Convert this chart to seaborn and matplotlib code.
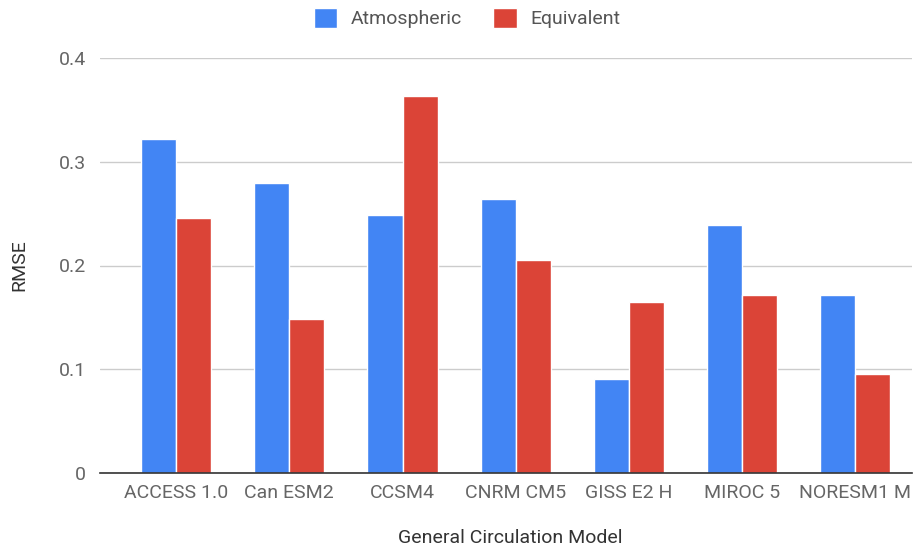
import matplotlib
matplotlib.use("Agg")
import matplotlib.pyplot as plt
import seaborn as sns
import pandas as pd

models = ["ACCESS 1.0", "Can ESM2", "CCSM4", "CNRM CM5", "GISS E2 H", "MIROC 5", "NORESM1 M"]
atmospheric = [0.322, 0.280, 0.249, 0.264, 0.091, 0.239, 0.172]
equivalent = [0.246, 0.148, 0.363, 0.205, 0.165, 0.172, 0.095]
series = ["Atmospheric", "Equivalent"]

df = pd.DataFrame({
    "model": models * 2,
    "RMSE": atmospheric + equivalent,
    "series": [series[0]] * len(models) + [series[1]] * len(models),
})

sns.set_theme(style="white")
plt.rcParams["font.family"] = ["Roboto", "DejaVu Sans"]

W, H = 913, 552
fig = plt.figure(figsize=(W / 100, H / 100), dpi=100)
ax_l, ax_r, ax_t, ax_b = 100, 912, 58, 473
ax = fig.add_axes([ax_l / W, 1 - ax_b / H, (ax_r - ax_l) / W, (ax_b - ax_t) / H])

sns.barplot(data=df, x="model", y="RMSE", hue="series", order=models,
            hue_order=series, palette=["#4285F4", "#DB4437"], width=0.62,
            saturation=1, ax=ax, legend=True)

ax.set_xlim(-0.672, 6.5)
ax.set_ylim(0, 0.4)
ax.set_yticks([0, 0.1, 0.2, 0.3, 0.4])
ax.set_yticklabels(["0", "0.1", "0.2", "0.3", "0.4"])
ax.yaxis.grid(True, color="#cccccc", linewidth=1)
ax.set_axisbelow(True)
for s in ["top", "right", "left"]:
    ax.spines[s].set_visible(False)
ax.spines["bottom"].set_color("#333333")
ax.spines["bottom"].set_linewidth(1.2)
ax.tick_params(axis="both", length=0, labelsize=14, colors="#666666")
ax.tick_params(axis="y", pad=10)
ax.tick_params(axis="x", pad=8)
ax.set_xlabel("General Circulation Model", fontsize=14, color="#333333")
ax.set_ylabel("RMSE", fontsize=14, color="#333333")
ax.xaxis.set_label_coords((510 - ax_l) / (ax_r - ax_l), -(529 - ax_b) / (ax_b - ax_t))
ax.yaxis.set_label_coords(-(ax_l - 28) / (ax_r - ax_l), 0.5)

ax.legend(loc="center", bbox_to_anchor=(0.452, 1 + (ax_t - 18) / (ax_b - ax_t)), ncol=2,
          frameon=False, fontsize=14, handlelength=1.2, handleheight=1.2,
          handletextpad=0.7, columnspacing=1.6, labelcolor="#555555")

fig.savefig("out.png", dpi=100)
